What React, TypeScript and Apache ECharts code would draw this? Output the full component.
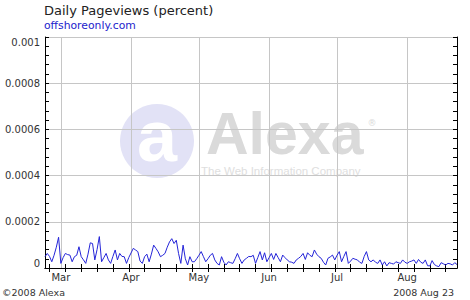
import React, { useEffect, useRef } from "react";
import * as echarts from "echarts";

const START_DATE = "2008-02-23";
const MONTH_LABELS = ["Jan", "Feb", "Mar", "Apr", "May", "Jun", "Jul", "Aug", "Sep", "Oct", "Nov", "Dec"];
const Y_TICKS = [0, 0.0002, 0.0004, 0.0006, 0.0008, 0.001];
const UNIT = 1e-5;
// daily pageviews (percent), in units of 1e-5, Feb 23 – Aug 23 2008
const PAGEVIEWS = [
  4.9, 6.3, 5.0, 2.7, 5.5, 9.0, 13.3, 2.0, 4.5, 6.3,
  5.8, 5.6, 2.7, 4.9, 5.5, 9.2, 4.9, 3.5, 2.0, 6.0,
  10.9, 10.6, 3.5, 8.0, 13.6, 2.7, 4.5, 6.3, 3.5, 2.0,
  5.0, 7.8, 3.5, 6.3, 5.0, 4.9, 2.0, 4.5, 6.5, 8.5,
  7.8, 7.1, 3.0, 2.0, 4.9, 6.0, 2.7, 6.0, 9.9, 8.5,
  7.0, 4.9, 5.5, 6.3, 9.0, 11.3, 12.7, 10.6, 12.0, 6.3,
  2.0, 9.9, 4.0, 1.3, 4.9, 2.7, 2.7, 4.0, 5.5, 7.1,
  4.9, 2.7, 4.0, 5.5, 6.3, 3.5, 2.0, 1.3, 4.9, 2.5,
  1.3, 2.7, 2.3, 2.0, 4.0, 6.3, 4.0, 2.0, 3.5, 4.2,
  5.0, 4.9, 5.5, 2.0, 4.5, 7.1, 3.5, 6.6, 2.7, 4.5,
  6.3, 3.7, 6.3, 4.5, 2.7, 5.6, 4.5, 3.5, 2.7, 2.5,
  2.0, 3.5, 4.2, 5.0, 6.3, 3.7, 6.6, 5.5, 4.9, 7.8,
  6.0, 4.9, 4.2, 2.5, 1.3, 4.2, 4.8, 5.6, 3.5, 5.5,
  7.1, 2.7, 5.0, 7.1, 2.0, 3.0, 4.2, 3.8, 3.5, 2.5,
  2.0, 5.0, 7.1, 3.5, 2.7, 3.5, 2.5, 2.0, 3.5, 1.3,
  2.7, 0.9, 2.3, 2.0, 1.7, 2.7, 2.3, 2.0, 3.5, 2.5,
  2.0, 2.7, 3.0, 3.5, 2.0, 3.7, 2.5, 2.0, 3.5, 1.0,
  0.9, 3.2, 1.5, 0.9, 0.6, 2.3, 1.8, 1.3, 2.0, 1.8,
  1.3, 2.3, 1.5,
];

function buildDates(start: string, n: number): string[] {
  const out: string[] = [];
  const d0 = new Date(start + "T00:00:00Z");
  for (let i = 0; i < n; i++) {
    const d = new Date(d0.getTime() + i * 86400000);
    out.push(d.toISOString().slice(0, 10));
  }
  return out;
}

const FONT = "DejaVu Sans";

export default function App() {
  const ref = useRef<HTMLDivElement>(null);
  useEffect(() => {
    if (!ref.current) return;
    const chart = echarts.init(ref.current, null, { renderer: "svg" });
    const dates = buildDates(START_DATE, PAGEVIEWS.length);
    const isMonthStart = (i: number) => dates[i].slice(8, 10) === "01";
    const isMonday = (i: number) => new Date(dates[i] + "T00:00:00Z").getUTCDay() === 1;
    const xBase = {
      type: "category" as const,
      data: dates,
      boundaryGap: false,
      axisLine: { show: true, lineStyle: { color: "#000", width: 1 } },
    };
    const yBase = {
      type: "value" as const,
      min: Y_TICKS[0],
      max: Y_TICKS[Y_TICKS.length - 1],
      interval: Y_TICKS[1] - Y_TICKS[0],
      axisLine: { show: true, lineStyle: { color: "#000", width: 1 } },
      axisTick: { show: true, inside: true, length: 4, lineStyle: { color: "#000" } },
      minorTick: { show: true, splitNumber: 5, length: 4, lineStyle: { color: "#000" } },
    };
    chart.setOption({
      animation: false,
      backgroundColor: "#fff",
      title: [
        {
          text: "Daily Pageviews (percent)",
          left: 44,
          top: 4,
          padding: 0,
          textStyle: { fontFamily: FONT, fontSize: 13, fontWeight: "normal", color: "#222" },
        },
        {
          text: "offshoreonly.com",
          left: 44,
          top: 20,
          padding: 0,
          textStyle: { fontFamily: FONT, fontSize: 10.8, fontWeight: "normal", color: "#2222cc" },
        },
        {
          text: "©2008 Alexa",
          left: 2,
          top: 287,
          padding: 0,
          textStyle: { fontFamily: FONT, fontSize: 9.5, fontWeight: "normal", color: "#333" },
        },
        {
          text: "2008 Aug 23",
          right: 16,
          top: 287,
          padding: 0,
          textStyle: { fontFamily: FONT, fontSize: 9.5, fontWeight: "normal", color: "#333" },
        },
      ],
      graphic: [
        {
          type: "group",
          z: -10,
          silent: true,
          children: [
            { type: "circle", shape: { cx: 157, cy: 141, r: 37 }, style: { fill: "#e2e2f6" }, z: -10 },
            {
              type: "text",
              x: 157,
              y: 136,
              style: {
                text: "a",
                fill: "#fff",
                font: "bold 72px 'Liberation Sans'",
                align: "center",
                verticalAlign: "middle",
              },
              z: -9,
            },
            {
              type: "text",
              x: 206,
              y: 163,
              style: {
                text: "Alexa",
                fill: "#dadada",
                font: "bold 59px 'Liberation Sans'",
                align: "left",
                verticalAlign: "bottom",
              },
              z: -9,
            },
            {
              type: "text",
              x: 372,
              y: 123,
              style: { text: "®", fill: "#dadada", font: "9px 'DejaVu Sans'", align: "center", verticalAlign: "middle" },
              z: -9,
            },
            {
              type: "text",
              x: 201,
              y: 171,
              style: {
                text: "The Web Information Company",
                fill: "#dedede",
                font: "11.5px 'Liberation Sans'",
                align: "left",
                verticalAlign: "middle",
              },
              z: -9,
            },
          ],
        },
      ],
      grid: { left: 45, right: 13, top: 37, bottom: 32, containLabel: false },
      xAxis: [
        {
          ...xBase,
          position: "bottom",
          axisTick: { show: true, inside: true, length: 4, interval: (i: number) => isMonday(i), lineStyle: { color: "#000" } },
          axisLabel: {
            show: true,
            interval: (i: number) => isMonthStart(i),
            formatter: (v: string) => MONTH_LABELS[parseInt(v.slice(5, 7), 10) - 1],
            fontFamily: FONT,
            fontSize: 10,
            color: "#333",
            margin: 4,
          },
          splitLine: { show: true, interval: (i: number) => isMonthStart(i), lineStyle: { color: "#c6c6c6", width: 1 } },
        },
        {
          ...xBase,
          position: "top",
          axisTick: { show: true, inside: true, length: 4, interval: (i: number) => isMonday(i), lineStyle: { color: "#000" } },
          axisLabel: { show: false },
          splitLine: { show: false },
        },
      ],
      yAxis: [
        {
          ...yBase,
          position: "left",
          splitLine: { show: true, lineStyle: { color: "#c6c6c6", width: 1 } },
          axisLabel: {
            show: true,
            fontFamily: FONT,
            fontSize: 10,
            color: "#333",
            margin: 5,
            formatter: (v: number) => {
              const s = String(+v.toFixed(5));
              if (v === 0) return "{lo|" + s + "}";
              if (Math.abs(v - 0.001) < 1e-9) return "{hi|" + s + "}";
              return s;
            },
            rich: {
              lo: { fontFamily: FONT, fontSize: 10, color: "#333", padding: [0, 0, 10, 0] },
              hi: { fontFamily: FONT, fontSize: 10, color: "#333", padding: [10, 0, 0, 0] },
            },
          },
        },
        {
          ...yBase,
          position: "right",
          splitLine: { show: false },
          axisLabel: { show: false },
        },
      ],
      series: [
        {
          type: "line",
          xAxisIndex: 0,
          yAxisIndex: 0,
          data: PAGEVIEWS.map((v) => v * UNIT),
          showSymbol: false,
          symbol: "none",
          lineStyle: { color: "#2424d8", width: 1 },
          z: 5,
        },
      ],
    });
    return () => chart.dispose();
  }, []);
  return (
    <div
      ref={ref}
      style={{ position: "absolute", left: 0, top: 0, width: 470, height: 300, background: "#fff" }}
    />
  );
}
